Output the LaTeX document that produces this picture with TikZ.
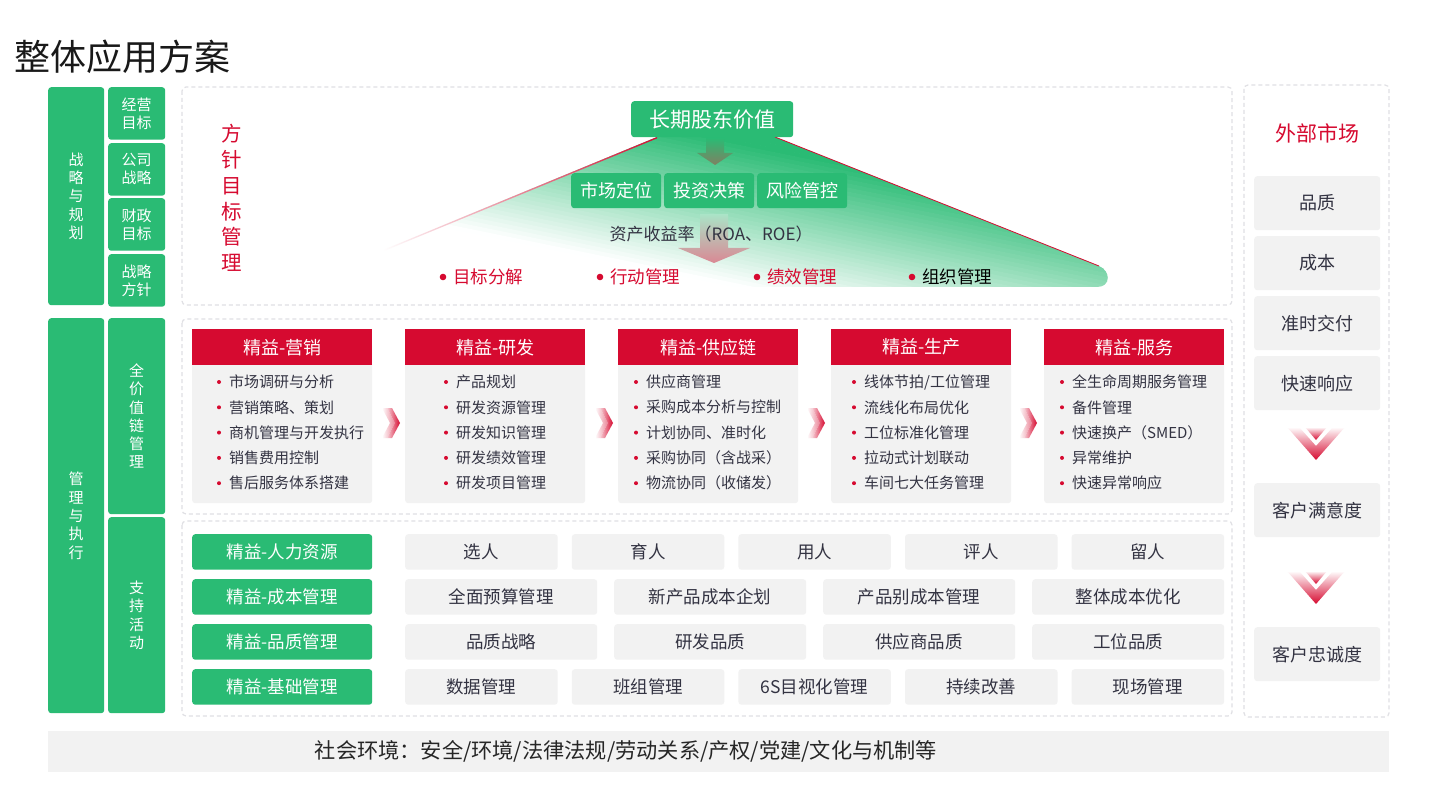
\documentclass[tikz,border=0pt]{standalone}
\usepackage{fontspec}
\setmainfont{Noto Sans CJK SC}
\usetikzlibrary{calc, positioning}

\definecolor{jgreen}{RGB}{42,187,116}
\definecolor{jred}{RGB}{214,10,48}
\definecolor{jgray}{RGB}{242,242,242}
\definecolor{jink}{RGB}{51,51,66}
\definecolor{jdash}{RGB}{224,224,228}
\definecolor{jolive}{RGB}{128,128,98}
\definecolor{jpink}{RGB}{218,136,148}

\newcommand{\jfs}[2]{\fontsize{#1}{#2}\selectfont}

% double chevron pointing right, centre (#1,#2)
\newcommand{\hchev}[2]{%
  \shade[left color=white, right color=jred!50] ($(#1,#2)+(-9,-15)$) -- ++(5,0) -- ++(8,15) -- ++(-8,15) -- ++(-5,0) -- ++(8,-15) -- cycle;
  \shade[left color=jred!20, right color=jred] ($(#1,#2)+(-4,-15)$) -- ++(5,0) -- ++(8,15) -- ++(-8,15) -- ++(-5,0) -- ++(8,-15) -- cycle;
}
% chevron pointing down, centre (#1,#2)
\newcommand{\vchev}[2]{%
  \shade[top color=white, bottom color=jred] ($(#1,#2)+(-29,-16)$) -- ++(12,0) -- ++(17,19) -- ++(17,-19) -- ++(12,0) -- ++(-29,33) -- cycle;
  \shade[top color=white, bottom color=jred] ($(#1,#2)+(-11,-16)$) -- ++(22,0) -- ++(-11,13) -- cycle;
}

\tikzset{
  gbox/.style={fill=jgreen, text=white, rounded corners=3pt, inner sep=0pt, anchor=north west},
  graybox/.style={fill=jgray, text=jink, rounded corners=3pt, inner sep=0pt, anchor=north west, font=\jfs{17.5}{20}},
  rhead/.style={fill=jred, text=white, inner sep=0pt, anchor=north west, font=\jfs{18}{20}},
  dashbox/.style={draw=jdash, line width=1.2pt, dash pattern=on 4pt off 3pt, rounded corners=4pt},
  vtext/.style={align=center, font=\jfs{15}{18.3}},
}

\begin{document}
\begin{tikzpicture}[x=1pt, y=-1pt]
\useasboundingbox[fill=white] (0,0) rectangle (1440,810);

\node[anchor=west, inner sep=0pt, font=\jfs{36}{40}, text=black!90] (title) at (14,57) {整体应用方案};

% left column
\node[gbox, vtext, minimum width=56, minimum height=218] (zl) at (48,87) {战\\略\\与\\规\\划};
\foreach \y/\t [count=\i] in {87/经营\\目标, 143/公司\\战略, 198/财政\\目标, 254/战略\\方针}
  \node[gbox, align=center, font=\jfs{15}{18}, minimum width=57, minimum height=52.5] (zs\i) at (108,\y) {\t};
\node[gbox, vtext, minimum width=56, minimum height=395] (gl) at (48,318) {管\\理\\与\\执\\行};
\node[gbox, vtext, minimum width=57, minimum height=196] (gq) at (108,318) {全\\价\\值\\链\\管\\理};
\node[gbox, vtext, minimum width=57, minimum height=196] (gz) at (108,517) {支\\持\\活\\动};

% frames
\draw[dashbox] (182,87) rectangle (1232,305);
\draw[dashbox] (182,319) rectangle (1232,514);
\draw[dashbox] (182,521) rectangle (1232,716);
\draw[dashbox] (1244,85) rectangle (1389,717);

% top: value fan
\begin{scope}
  \clip (657,137) -- (775,137) -- (1099,266) .. controls (1111,271) and (1111,287) .. (1097,287) -- (383,287) -- (383,250) -- cycle;
  \foreach \k in {-4,...,55} {
    \pgfmathsetmacro\pc{min(100,max(0,100-2.85*\k))}
    \fill[jgreen!\pc!white] ($(720,137)+(-0.8*\k,3.92*\k)+(-980,-200)$) -- ++(1960,400) -- ++(-0.9,4.41) -- ++(-1960,-400) -- cycle;
  }
\end{scope}
\draw[jred, line width=0.8pt] (775,137) -- (1099,266);
\shade[left color=white, right color=jred] (383,250) -- (657,137) -- (657,138.4) -- (383,251.4) -- cycle;

\shade[top color=jgreen, bottom color=jolive] (706,138) -- (724,138) -- (724,153) -- (733,153) -- (715,165) -- (697,153) -- (706,153) -- cycle;
\shade[top color=jgreen!40!white, bottom color=jpink] (700,214) -- (728,214) -- (728,248) -- (750,248) -- (714,263) -- (678,248) -- (700,248) -- cycle;

\node[gbox, minimum width=162, minimum height=36, font=\jfs{21}{24}] (lv) at (631,101) {长期股东价值};
\foreach \x/\t [count=\i] in {571/市场定位, 664/投资决策, 757/风险管控}
  \node[gbox, minimum width=90, minimum height=35, font=\jfs{18}{20}] (m\i) at (\x,173) {\t};
\node[font=\jfs{17}{20}, text=jink] (roa) at (711,234) {资产收益率（ROA、ROE）};

\node[text=jred, align=center, font=\jfs{20.5}{25.8}] (fz) at (232,198) {方\\针\\目\\标\\管\\理};

\foreach \x/\t/\c [count=\i] in {443/目标分解/jred, 600/行动管理/jred, 757/绩效管理/jred, 912/组织管理/black} {
  \fill[jred] (\x,277) circle (3.3);
  \node[anchor=west, inner sep=0pt, font=\jfs{17.5}{20}, text=\c] (tb\i) at (\x+10,277) {\t};
}

% value chain cards
\foreach \cx/\off/\hd/\items [count=\i] in {
  192/37/{精益-营销}/{市场调研与分析,营销策略、策划,商机管理与开发执行,销售费用控制,售后服务体系搭建},
  405/51/{精益-研发}/{产品规划,研发资源管理,研发知识管理,研发绩效管理,研发项目管理},
  618/28/{精益-供应链}/{供应商管理,采购成本分析与控制,计划协同、准时化,采购协同（含战采）,物流协同（收储发）},
  831/33/{精益-生产}/{线体节拍/工位管理,流线化布局优化,工位标准化管理,拉动式计划联动,车间七大任务管理},
  1044/28/{精益-服务}/{全生命周期服务管理,备件管理,快速换产（SMED）,异常维护,快速异常响应}} {
  \node[graybox, minimum width=180, minimum height=160] (cb\i) at (\cx,343) {};
  \node[rhead, minimum width=180, minimum height=36] (ch\i) at (\cx,329) {\hd};
  \foreach \t [count=\j] in \items {
    \fill[jred] (\cx+\off-10, 356.7+25.3*\j) circle (2);
    \node[anchor=west, inner sep=0pt, font=\jfs{15}{18}, text=jink] (c\i-\j) at (\cx+\off, 356.7+25.3*\j) {\t};
  }
}
\foreach \x in {391, 604, 816, 1028} {
  \hchev{\x}{423}
}

% support activities
\foreach \t/\y [count=\i] in {人力资源/534, 成本管理/579, 品质管理/624, 基础管理/669}
  \node[gbox, minimum width=180, minimum height=35.5, font=\jfs{17.5}{20}] (s\i) at (192,\y) {精益-\t};
\foreach \t [count=\k] in {选人,育人,用人,评人,留人}
  \node[graybox, minimum width=152.5, minimum height=35.5] (ra-\k) at (405+166.6*\k-166.6,534) {\t};
\foreach \t [count=\k] in {全面预算管理,新产品成本企划,产品别成本管理,整体成本优化}
  \node[graybox, minimum width=192, minimum height=35.5] (rb-\k) at (405+209*\k-209,579) {\t};
\foreach \t [count=\k] in {品质战略,研发品质,供应商品质,工位品质}
  \node[graybox, minimum width=192, minimum height=35.5] (rc-\k) at (405+209*\k-209,624) {\t};
\foreach \t [count=\k] in {数据管理,班组管理,6S目视化管理,持续改善,现场管理}
  \node[graybox, minimum width=152.5, minimum height=35.5] (rd-\k) at (405+166.6*\k-166.6,669) {\t};

% external market
\node[text=jred, font=\jfs{21}{24}] (wb) at (1317,133) {外部市场};
\foreach \t/\y [count=\i] in {品质/176, 成本/236, 准时交付/296, 快速响应/356}
  \node[graybox, minimum width=126, minimum height=54, font=\jfs{18}{20}] (k\i) at (1254,\y) {\t};
\vchev{1316}{443}
\node[graybox, minimum width=126, minimum height=54, font=\jfs{18}{20}] (ky) at (1254,483) {客户满意度};
\vchev{1316}{587}
\node[graybox, minimum width=126, minimum height=54, font=\jfs{18}{20}] (kz) at (1254,627) {客户忠诚度};

% environment bar
\node[fill=jgray, anchor=north west, inner sep=0pt, minimum width=1341, minimum height=41] (env) at (48,731) {};
\node[font=\jfs{21.2}{24}, text=black!85] (envt) at (626,751) {社会环境：安全/环境/法律法规/劳动关系/产权/党建/文化与机制等};
\end{tikzpicture}
\end{document}
